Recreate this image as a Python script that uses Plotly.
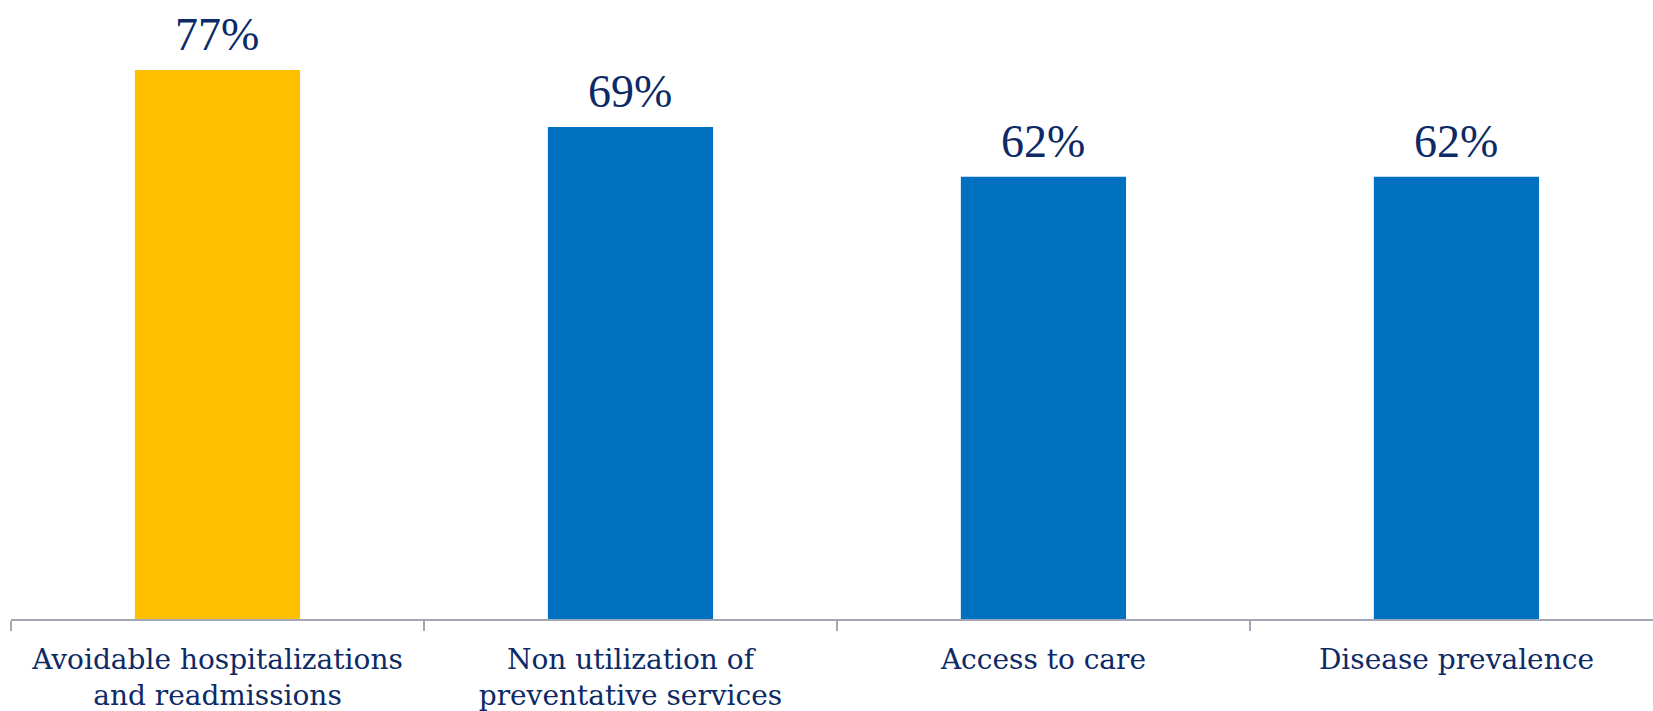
import plotly.graph_objects as go

categories = [
    "Avoidable hospitalizations<br>and readmissions",
    "Non utilization of<br>preventative services",
    "Access to care",
    "Disease prevalence",
]
values = [77, 69, 62, 62]
bar_colors = ["#FFC000", "#0070C0", "#0070C0", "#0070C0"]

navy = "#0D2A66"
value_font = "Liberation Serif, Times New Roman, serif"
label_font = "DejaVu Serif, Georgia, serif"

fig = go.Figure(
    go.Bar(
        x=categories,
        y=values,
        marker=dict(color=bar_colors, line=dict(width=0)),
        width=0.4,
        hoverinfo="skip",
    )
)

for cat, val in zip(categories, values):
    fig.add_annotation(
        x=cat,
        y=val,
        text=f"{val}%",
        showarrow=False,
        yanchor="bottom",
        yshift=8,
        font=dict(family=value_font, size=46, color=navy),
    )

fig.update_layout(
    width=1653,
    height=711,
    margin=dict(l=11, r=0, t=0, b=92),
    paper_bgcolor="white",
    plot_bgcolor="white",
    showlegend=False,
    bargap=0.6,
    font=dict(family=label_font, color=navy),
)

fig.update_xaxes(
    type="category",
    range=[-0.5, 3.476],
    showline=True,
    linecolor="#A3A6B4",
    linewidth=2,
    ticks="outside",
    tickson="boundaries",
    ticklen=10,
    tickwidth=2,
    tickcolor="#A3A6B4",
    ticklabelstandoff=14,
    tickfont=dict(family=label_font, size=28, color=navy),
    showgrid=False,
    zeroline=False,
)

fig.update_yaxes(
    range=[0, 86.8],
    visible=False,
    showgrid=False,
    zeroline=False,
)

fig.write_html("out.html")
